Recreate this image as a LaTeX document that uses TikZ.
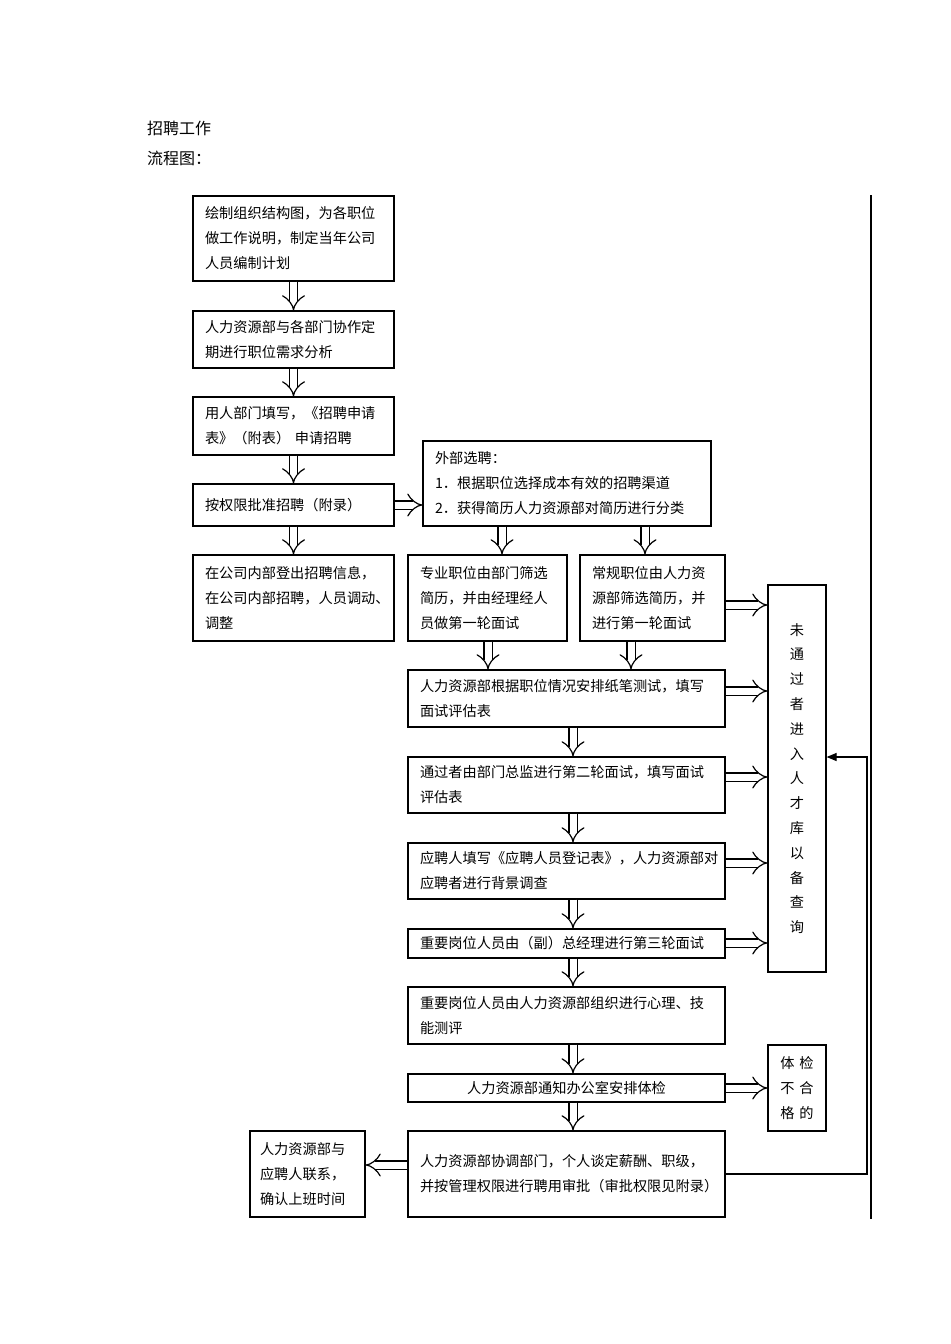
\documentclass[tikz,border=0pt]{standalone}
\usepackage{fontspec}
\setmainfont{Noto Sans CJK SC}
\usetikzlibrary{arrows,arrows.meta}
\begin{document}
\begin{tikzpicture}[x=0.5pt,y=-0.5pt,
  every node/.style={font=\fontsize{7.1}{12.5}\selectfont},
  box/.style={draw,line width=0.6pt,rectangle,inner xsep=6pt,inner ysep=0pt,align=left},
  dar/.style={double,double distance=3.5pt,line width=0.6pt,-{Implies}}]
\useasboundingbox (0,0) rectangle (950,1344);
\node[anchor=west,font=\fontsize{8}{10}\selectfont] (t1) at (140,128) {招聘工作};
\node[anchor=west,font=\fontsize{8}{10}\selectfont] (t2) at (140,158) {流程图：};
% left column
\node[box,minimum width=100.5pt,minimum height=42.5pt,text width=88.5pt] (b1) at (293.5,238.5) {绘制组织结构图，为各职位\\做工作说明，制定当年公司\\人员编制计划};
\node[box,minimum width=100.5pt,minimum height=28.5pt,text width=88.5pt] (b2) at (293.5,339.5) {人力资源部与各部门协作定\\期进行职位需求分析};
\node[box,minimum width=100.5pt,minimum height=29pt,text width=88.5pt] (b3) at (293.5,426) {用人部门填写，《招聘申请\\表》（附表） 申请招聘};
\node[box,minimum width=100.5pt,minimum height=21pt,text width=88.5pt] (b4) at (293.5,505) {按权限批准招聘（附录）};
\node[box,minimum width=100.5pt,minimum height=43pt,text width=88.5pt] (b5) at (293.5,598) {在公司内部登出招聘信息，\\在公司内部招聘，人员调动、\\调整};
% external
\node[box,minimum width=144pt,minimum height=42.5pt,text width=132pt] (ext) at (567,483.5) {外部选聘：\\1．根据职位选择成本有效的招聘渠道\\2．获得简历人力资源部对简历进行分类};
\node[box,minimum width=79.5pt,minimum height=43pt,text width=67.5pt] (p1) at (487.5,598) {专业职位由部门筛选\\简历，并由经理经人\\员做第一轮面试};
\node[box,minimum width=72.5pt,minimum height=43pt,text width=60.5pt] (p2) at (652.5,598) {常规职位由人力资\\源部筛选简历，并\\进行第一轮面试};
\node[box,minimum width=158.5pt,minimum height=28.5pt,text width=146.5pt] (r1) at (566.5,698.5) {人力资源部根据职位情况安排纸笔测试，填写\\面试评估表};
\node[box,minimum width=158.5pt,minimum height=28pt,text width=146.5pt] (r2) at (566.5,785) {通过者由部门总监进行第二轮面试，填写面试\\评估表};
\node[box,minimum width=158.5pt,minimum height=28pt,text width=146.5pt] (r3) at (566.5,871) {应聘人填写《应聘人员登记表》，人力资源部对\\应聘者进行背景调查};
\node[box,minimum width=158.5pt,minimum height=14.5pt,text width=146.5pt] (r4) at (566.5,943.5) {重要岗位人员由（副）总经理进行第三轮面试};
\node[box,minimum width=158.5pt,minimum height=28.5pt,text width=146.5pt] (r5) at (566.5,1015.5) {重要岗位人员由人力资源部组织进行心理、技\\能测评};
\node[box,minimum width=158.5pt,minimum height=14pt,text width=146.5pt,align=center] (r6) at (566.5,1088) {人力资源部通知办公室安排体检};
\node[box,minimum width=158.5pt,minimum height=43pt,text width=146.5pt] (r7) at (566.5,1174) {人力资源部协调部门，个人谈定薪酬、职级，\\并按管理权限进行聘用审批（审批权限见附录）};
\node[box,minimum width=57.5pt,minimum height=43pt,text width=47.5pt,inner xsep=5pt] (lf) at (307.5,1174) {人力资源部与\\应聘人联系，\\确认上班时间};
\node[box,minimum width=29pt,minimum height=193.5pt,text width=20pt,align=center,inner xsep=0pt,font=\fontsize{7.1}{12.4}\selectfont] (tal) at (797,778.5) {未\\通\\过\\者\\进\\入\\人\\才\\库\\以\\备\\查\\询};
\node[box,minimum width=29pt,minimum height=43pt,text width=25pt,align=center,inner xsep=0pt] (hl) at (797,1088) {体\ 检\\不\ 合\\格\ 的};
% border line
\coordinate (bt) at (871,195);
\coordinate (bb) at (871,1219);
\draw[line width=0.6pt] (bt) -- (bb);
% arrows
\draw[dar] (b1.south) -- (b2.north);
\draw[dar] (b2.south) -- (b3.north);
\draw[dar] (b3.south) -- (b4.north);
\draw[dar] (b4.south) -- (b5.north);
\draw[dar] (b4.east) -- (ext.west|-b4.east);
\draw[dar] (ext.south-|502,0) -- (p1.north-|502,0);
\draw[dar] (ext.south-|645,0) -- (p2.north-|645,0);
\draw[dar] (p1.south-|488,0) -- (r1.north-|488,0);
\draw[dar] (p2.south-|631,0) -- (r1.north-|631,0);
\draw[dar] (r1.south-|573,0) -- (r2.north-|573,0);
\draw[dar] (r2.south-|573,0) -- (r3.north-|573,0);
\draw[dar] (r3.south-|573,0) -- (r4.north-|573,0);
\draw[dar] (r4.south-|573,0) -- (r5.north-|573,0);
\draw[dar] (r5.south-|573,0) -- (r6.north-|573,0);
\draw[dar] (r6.south-|573,0) -- (r7.north-|573,0);
\draw[dar] (p2.east|-0,605) -- (tal.west|-0,605);
\draw[dar] (r1.east|-0,691) -- (tal.west|-0,691);
\draw[dar] (r2.east|-0,777) -- (tal.west|-0,777);
\draw[dar] (r3.east|-0,863) -- (tal.west|-0,863);
\draw[dar] (r4.east|-0,943) -- (tal.west|-0,943);
\draw[dar] (r6.east) -- (hl.west);
\draw[dar] (r7.west|-0,1165) -- (lf.east|-0,1165);
\draw[line width=0.6pt,-{Triangle[length=5pt,width=4pt]}] (r7.east) -- (867,1174) -- (867,757) -- (tal.east|-0,757);
\end{tikzpicture}
\end{document}
